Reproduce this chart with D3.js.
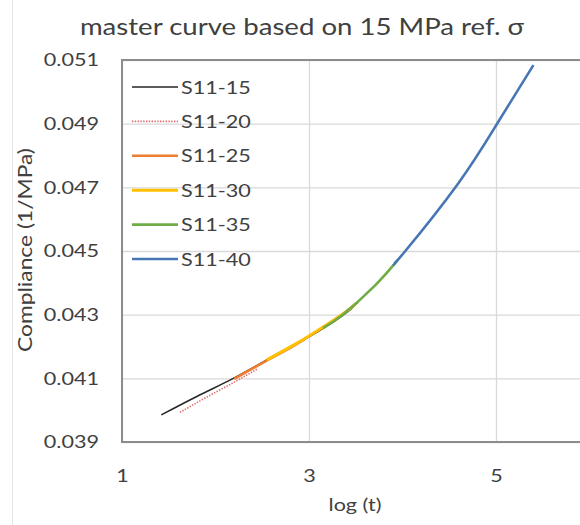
<!DOCTYPE html>
<html>
<head>
<meta charset="utf-8">
<script src="https://cdn.jsdelivr.net/npm/d3@7"></script>
<style>
  body { margin: 0; background: #fff; }
  text { font-family: Lato, "Open Sans", sans-serif; fill: #404040; }
</style>
</head>
<body>
<svg id="chart" width="580" height="525"></svg>
<script>
// series: [log(t), compliance]
const s11_15 = [[1.42, 0.03985], [1.8, 0.04043], [2.19, 0.04100], [2.5, 0.04150], [2.8, 0.04198], [3.0, 0.04230], [3.36, 0.04297], [3.52, 0.04338]];
const s11_20 = [[1.62, 0.03993], [1.9, 0.04040], [2.2, 0.04088], [2.45, 0.04130]];
const s11_25 = [[2.2, 0.04098], [2.5, 0.04148], [2.8, 0.04196], [2.95, 0.04222]];
const s11_30 = [[2.55, 0.04158], [2.8, 0.04199], [3.0, 0.04233], [3.36, 0.04302], [3.5, 0.04335]];
const s11_35 = [[3.15, 0.04258], [3.36, 0.04300], [3.71, 0.04393], [3.95, 0.04472]];
const s11_40 = [[3.9, 0.04458], [4.03, 0.04500], [4.59, 0.04710], [5.01, 0.04899], [5.4, 0.05084]];

const seriesNames = ["S11-15", "S11-20", "S11-25", "S11-30", "S11-35", "S11-40"];
const seriesData = [s11_15, s11_20, s11_25, s11_30, s11_35, s11_40];
const seriesColors = ["#262626", "#e26b6b", "#ED7D31", "#FFC000", "#70AD47", "#4677b4"];
const seriesWidths = [1.5, 1.6, 2.6, 3, 2.6, 2.6];
const seriesDash = [null, "1.4,1.4", null, null, null, null];

const gridX = [1, 3, 5, 7];
const xTicks = [1, 3, 5];
const yTicks = [0.039, 0.041, 0.043, 0.045, 0.047, 0.049, 0.051];

const svg = d3.select("#chart");
const STRETCH = 1.2;

// text in the reference is wider than it is tall
const stretch = (sel) =>
  sel.each(function () {
    const t = d3.select(this);
    const x = +t.attr("x") || 0, y = +t.attr("y") || 0;
    const prev = t.attr("transform") || "";
    t.attr("transform", `${prev} translate(${x},${y}) scale(${STRETCH},1) translate(${-x},${-y})`);
  });

const xScale = d3.scaleLinear().domain([1, 7]).range([122, 683]);
const yScale = d3.scaleLinear().domain([0.039, 0.051]).range([442, 60]);

// outer chart border (left edge only visible)
svg.append("line")
  .attr("x1", 12.5).attr("x2", 12.5).attr("y1", 0).attr("y2", 525)
  .attr("stroke", "#e4e4e4").attr("stroke-width", 1);

// gridlines
svg.append("g")
  .attr("transform", `translate(122,0)`)
  .call(d3.axisLeft(yScale).tickValues(yTicks).tickSize(-(683 - 122)).tickFormat(""))
  .call((g) => g.select(".domain").remove())
  .selectAll("line").attr("stroke", "#d9d9d9").attr("stroke-width", 1.3);

svg.append("g")
  .attr("transform", `translate(0,442)`)
  .call(d3.axisBottom(xScale).tickValues(gridX).tickSize(-(442 - 60)).tickFormat(""))
  .call((g) => g.select(".domain").remove())
  .selectAll("line").attr("stroke", "#d9d9d9").attr("stroke-width", 1.3);

// plot frame
svg.append("rect")
  .attr("x", 122).attr("y", 60)
  .attr("width", 683 - 122).attr("height", 442 - 60)
  .attr("fill", "none").attr("stroke", "#8c8c8c").attr("stroke-width", 2);

// tick labels
svg.append("g")
  .attr("transform", "translate(99,0)")
  .call(d3.axisLeft(yScale).tickValues(yTicks).tickSize(0).tickPadding(0).tickFormat(d3.format(".3f")))
  .call((g) => g.select(".domain").remove())
  .selectAll("text")
  .attr("font-size", 18).attr("fill", "#404040").attr("font-family", "Lato")
  .call(stretch);

svg.append("g")
  .attr("transform", "translate(0,469)")
  .call(d3.axisBottom(xScale).tickValues(xTicks).tickSize(0).tickPadding(0).tickFormat(d3.format("d")))
  .call((g) => g.select(".domain").remove())
  .selectAll("text")
  .attr("font-size", 18).attr("fill", "#404040").attr("font-family", "Lato")
  .call(stretch);

// curves
const line = d3.line()
  .x((d) => xScale(d[0]))
  .y((d) => yScale(d[1]))
  .curve(d3.curveNatural);

svg.append("g")
  .selectAll("path")
  .data(seriesData)
  .join("path")
  .attr("d", line)
  .attr("fill", "none")
  .attr("stroke", (d, i) => seriesColors[i])
  .attr("stroke-width", (d, i) => seriesWidths[i])
  .attr("stroke-dasharray", (d, i) => seriesDash[i])
  .attr("stroke-linecap", "butt");

// legend
const legend = svg.append("g")
  .selectAll("g")
  .data(seriesNames)
  .join("g")
  .attr("transform", (d, i) => `translate(0,${87 + i * 34.4})`);

legend.append("line")
  .attr("x1", 132).attr("x2", 178)
  .attr("stroke", (d, i) => seriesColors[i])
  .attr("stroke-width", (d, i) => seriesWidths[i])
  .attr("stroke-dasharray", (d, i) => seriesDash[i]);

legend.append("text")
  .attr("x", 181).attr("y", 6.5)
  .attr("font-size", 18)
  .text((d) => d)
  .call(stretch);

// titles
svg.append("text")
  .attr("x", 302).attr("y", 35)
  .attr("text-anchor", "middle")
  .attr("font-size", 23)
  .text("master curve based on 15 MPa ref. σ")
  .call(stretch);

svg.append("text")
  .attr("x", 355).attr("y", 511)
  .attr("text-anchor", "middle")
  .attr("font-size", 18)
  .text("log (t)")
  .call(stretch);

svg.append("text")
  .attr("transform", "translate(32,250) rotate(-90)")
  .attr("text-anchor", "middle")
  .attr("font-size", 19)
  .text("Compliance (1/MPa)")
  .call(stretch);
</script>
</body>
</html>
